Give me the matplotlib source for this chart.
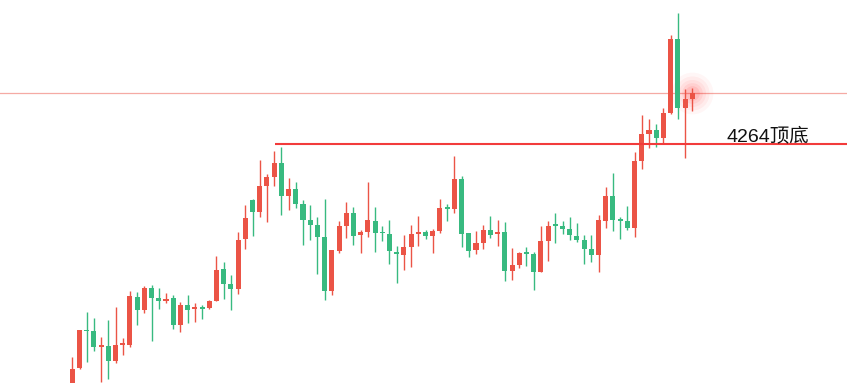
import matplotlib
matplotlib.use("Agg")
import matplotlib.pyplot as plt
import numpy as np

# OHLC values (price units)
opens = [4023.5, 4039.8, 4077.5, 4076.5, 4060.8, 4061.5, 4046.8, 4062.8, 4062.8, 4110.5,
         4097.8, 4119.5, 4109.5, 4106.8, 4109.5, 4082.8, 4102.5, 4098.8, 4099.5, 4099.8,
         4106.8, 4138.5, 4123.5, 4118.8, 4168.8, 4207.5, 4195.8, 4221.8, 4230.8, 4244.5,
         4211.8, 4218.5, 4203.5, 4187.5, 4182.5, 4170.5, 4116.8, 4156.8, 4181.8, 4194.5,
         4172.8, 4175.8, 4186.5, 4174.8, 4173.5, 4155.5, 4152.8, 4160.8, 4173.8, 4175.5,
         4171.8, 4176.8, 4199.5, 4198.8, 4228.5, 4174.5, 4157.8, 4164.8, 4177.5, 4173.8,
         4175.5, 4136.8, 4142.8, 4154.5, 4153.5, 4135.8, 4166.8, 4182.5, 4181.5, 4178.5,
         4171.5, 4167.5, 4158.5, 4152.8, 4186.8, 4211.5, 4187.5, 4186.5, 4179.8, 4246.8,
         4273.8, 4277.5, 4269.8, 4294.5, 4368.5, 4299.8, 4308.8]
highs = [4050.2, 4077.5, 4095.5, 4089.5, 4070.5, 4087.5, 4100.5, 4069.5, 4116.5, 4115.5,
         4121.5, 4122.5, 4119.5, 4114.5, 4112.5, 4105.5, 4112.5, 4104.5, 4102.5, 4107.5,
         4151.5, 4145.5, 4132.5, 4175.5, 4202.5, 4208.5, 4247.5, 4233.8, 4256.5, 4260.5,
         4229.5, 4225.5, 4207.5, 4202.5, 4190.8, 4208.5, 4157.5, 4186.8, 4205.8, 4200.5,
         4177.5, 4225.5, 4200.5, 4181.5, 4187.5, 4161.5, 4172.5, 4182.8, 4191.5, 4177.8,
         4178.5, 4208.5, 4203.5, 4251.5, 4231.5, 4174.5, 4176.5, 4182.5, 4191.5, 4187.5,
         4185.5, 4159.5, 4155.5, 4160.5, 4155.5, 4181.5, 4186.5, 4194.5, 4186.5, 4190.5,
         4184.5, 4172.5, 4172.5, 4192.5, 4220.5, 4234.5, 4190.5, 4201.5, 4255.5, 4292.5,
         4288.5, 4283.5, 4299.5, 4372.5, 4394.5, 4318.5, 4319.5]
lows = [4021.5, 4038.8, 4045.8, 4056.8, 4025.8, 4028.8, 4044.8, 4052.8, 4060.8, 4082.8,
        4094.8, 4066.8, 4098.8, 4104.8, 4078.8, 4075.8, 4084.8, 4085.8, 4088.8, 4098.8,
        4106.8, 4108.8, 4097.5, 4113.8, 4158.8, 4171.8, 4190.8, 4185.8, 4221.8, 4192.8,
        4197.8, 4199.8, 4162.8, 4167.8, 4133.8, 4107.8, 4112.8, 4154.8, 4169.8, 4162.8,
        4154.8, 4170.8, 4155.8, 4166.8, 4143.8, 4124.8, 4137.8, 4140.8, 4161.8, 4168.8,
        4154.8, 4174.8, 4186.8, 4194.8, 4160.8, 4150.8, 4153.8, 4158.8, 4169.8, 4161.8,
        4126.8, 4127.8, 4139.8, 4141.8, 4117.8, 4135.8, 4146.8, 4164.8, 4173.8, 4167.8,
        4165.8, 4143.8, 4145.8, 4135.8, 4179.8, 4176.8, 4168.8, 4177.8, 4170.8, 4238.8,
        4259.8, 4260.8, 4263.8, 4293.5, 4288.8, 4249.8, 4296.8]
closes = [4038.5, 4077.5, 4076.5, 4060.8, 4061.5, 4046.8, 4062.5, 4063.5, 4111.5, 4097.8,
          4119.5, 4109.8, 4106.8, 4108.2, 4082.8, 4102.5, 4097.8, 4099.5, 4098.8, 4106.5,
          4137.5, 4123.8, 4118.8, 4167.5, 4189.5, 4195.8, 4221.5, 4230.5, 4244.5, 4211.8,
          4218.5, 4203.8, 4187.8, 4182.8, 4170.8, 4116.8, 4157.5, 4181.5, 4194.5, 4171.8,
          4175.5, 4187.5, 4174.8, 4174.2, 4156.8, 4153.8, 4160.5, 4173.5, 4175.5, 4171.8,
          4176.5, 4199.5, 4198.8, 4228.5, 4173.8, 4156.8, 4164.5, 4177.5, 4172.8, 4175.5,
          4136.8, 4142.5, 4154.5, 4153.8, 4135.8, 4166.5, 4181.5, 4181.8, 4178.8, 4172.8,
          4167.8, 4158.8, 4152.8, 4187.5, 4211.5, 4187.8, 4186.8, 4179.8, 4246.5, 4273.5,
          4277.5, 4269.8, 4294.5, 4368.5, 4299.8, 4308.5, 4314.5]

level_value = 4264
level_label = "4264顶底"
level_start = 28.1

UP = "#eb5446"
DOWN = "#38ba80"

W, H = 847, 383
fig = plt.figure(figsize=(W / 100, H / 100), dpi=100)
ax = fig.add_axes([0, 0, 1, 1])
ax.set_axis_off()

n = len(opens)
x = np.arange(n)
o = np.array(opens); h = np.array(highs); l = np.array(lows); c = np.array(closes)
up = c >= o
colors = np.where(up, UP, DOWN)

px_per_unit = 7.209
x0_px = 72.3
ax.set_xlim(-x0_px / px_per_unit, (W - x0_px) / px_per_unit)
ax.set_ylim(4407.5 - H, 4407.5)

# wicks
ax.vlines(x, l, h, colors=colors, linewidth=1.0, zorder=2)
# bodies
bottom = np.minimum(o, c)
height = np.maximum(np.abs(c - o), 1.3)
ax.bar(x, height, bottom=bottom, width=0.7, color=colors, linewidth=0, zorder=3)

# current price line
ax.axhline(c[-1], color="#f5aaa4", linewidth=0.9, zorder=1)

# support / resistance level
ax.hlines(level_value, level_start, ax.get_xlim()[1], color="#f23b3b", linewidth=1.5, zorder=4)
ax.text(90.8, level_value + 1.8, level_label, fontsize=14, color="#111111",
        family=["Liberation Sans", "Noto Sans CJK SC"], va="baseline", ha="left", zorder=5)

# glow on last candle
for s, a in [(900, 0.04), (600, 0.05), (380, 0.06), (220, 0.08), (110, 0.1)]:
    ax.scatter([x[-1]], [c[-1]], s=s, color="#ff2020", alpha=a, linewidths=0, zorder=1)

fig.savefig("out.png", dpi=100)
